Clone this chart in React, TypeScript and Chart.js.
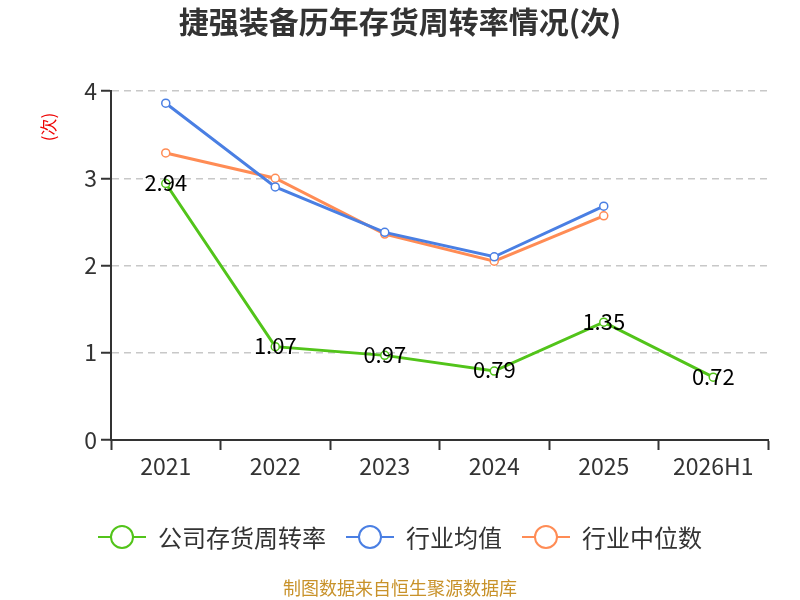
import React, { useEffect, useRef } from "react";
import { Chart, registerables } from "chart.js";

Chart.register(...registerables);

const categories = ["2021", "2022", "2023", "2024", "2025", "2026H1"];
const companyTurnover = [2.94, 1.07, 0.97, 0.79, 1.35, 0.72];
const industryMean = [3.86, 2.9, 2.38, 2.1, 2.68, null];
const industryMedian = [3.29, 3.0, 2.36, 2.05, 2.57, null];
const yTicks = [0, 1, 2, 3, 4];

const titleText = "捷强装备历年存货周转率情况(次)";
const yUnit = "(次)";
const footerText = "制图数据来自恒生聚源数据库";
const seriesNames = ["公司存货周转率", "行业均值", "行业中位数"];
const seriesColors = ["#52c41a", "#4a7fe3", "#ff8c55"];

const FONT = "'Noto Sans CJK SC', 'Noto Sans', sans-serif";

const decorPlugin = {
  id: "decor",
  afterDatasetsDraw(chart: any) {
    const ctx = chart.ctx;
    const meta = chart.getDatasetMeta(0);
    ctx.save();
    ctx.font = `22px ${FONT}`;
    ctx.fillStyle = "#000";
    ctx.textAlign = "center";
    ctx.textBaseline = "middle";
    meta.data.forEach((pt: any, i: number) => {
      const v = companyTurnover[i];
      if (v == null) return;
      ctx.fillText(v.toFixed(2), pt.x, pt.y - 1);
    });
    ctx.restore();
  },
  afterDraw(chart: any) {
    const ctx = chart.ctx;
    ctx.save();
    // title
    ctx.font = `bold 30px ${FONT}`;
    ctx.fillStyle = "#333";
    ctx.textAlign = "center";
    ctx.textBaseline = "middle";
    ctx.fillText(titleText, 400, 22);

    // y unit
    ctx.save();
    ctx.translate(49, 127);
    ctx.rotate(-Math.PI / 2);
    ctx.font = `17px ${FONT}`;
    ctx.fillStyle = "#e00";
    ctx.fillText(yUnit, 0, 0);
    ctx.restore();

    // legend
    ctx.font = `24px ${FONT}`;
    const symW = 48;
    const gapSym = 12;
    const gapItem = 20;
    const widths = seriesNames.map((n) => symW + gapSym + ctx.measureText(n).width);
    const total = widths.reduce((a, b) => a + b, 0) + gapItem * (seriesNames.length - 1);
    let x = 400 - total / 2;
    const ly = 537;
    seriesNames.forEach((n, i) => {
      ctx.strokeStyle = seriesColors[i];
      ctx.lineWidth = 2;
      ctx.beginPath();
      ctx.moveTo(x, ly);
      ctx.lineTo(x + symW, ly);
      ctx.stroke();
      ctx.beginPath();
      ctx.arc(x + symW / 2, ly, 11, 0, Math.PI * 2);
      ctx.fillStyle = "#fff";
      ctx.fill();
      ctx.stroke();
      ctx.fillStyle = "#333";
      ctx.textAlign = "left";
      ctx.fillText(n, x + symW + gapSym, ly + 1);
      x += widths[i] + gapItem;
    });

    // footer
    ctx.font = `18px ${FONT}`;
    ctx.fillStyle = "#c8922a";
    ctx.textAlign = "center";
    ctx.fillText(footerText, 400, 588);
    ctx.restore();
  },
};

export default function App() {
  const ref = useRef<HTMLCanvasElement | null>(null);
  useEffect(() => {
    if (!ref.current) return;
    const mk = (label: string, data: any[], color: string) => ({
      label,
      data,
      borderColor: color,
      backgroundColor: "#fff",
      borderWidth: 3,
      pointRadius: 4,
      pointBorderWidth: 1.5,
      pointBackgroundColor: "#fff",
      pointBorderColor: color,
      tension: 0,
      spanGaps: false,
    });
    const chart = new Chart(ref.current, {
      type: "line",
      data: {
        labels: categories,
        datasets: [
          mk(seriesNames[0], companyTurnover, seriesColors[0]),
          mk(seriesNames[1], industryMean, seriesColors[1]),
          mk(seriesNames[2], industryMedian, seriesColors[2]),
        ],
      },
      options: {
        animation: false,
        responsive: false,
        devicePixelRatio: 1,
        layout: { padding: { left: 0, top: 91, right: 32, bottom: 120 } },
        plugins: {
          legend: { display: false },
          title: { display: false },
          tooltip: { enabled: false },
        },
        scales: {
          x: {
            offset: true,
            afterFit: (s: any) => {
              s.height = 40;
            },
            grid: {
              display: true,
              drawOnChartArea: false,
              drawTicks: true,
              tickLength: 10,
              tickColor: "#333",
              tickWidth: 2,
              offset: true,
            },
            border: { display: true, color: "#333", width: 2 },
            ticks: {
              color: "#333",
              font: { family: FONT, size: 23 },
              padding: 2,
              maxRotation: 0,
            },
          },
          y: {
            min: 0,
            max: 4,
            afterFit: (s: any) => {
              s.width = 111;
            },
            afterBuildTicks: (s: any) => {
              s.ticks = yTicks.map((v) => ({ value: v }));
            },
            grid: {
              color: (c: any) => (c.tick && c.tick.value === 0 ? "rgba(0,0,0,0)" : "#c8c8c8"),
              lineWidth: 1.5,
              drawTicks: true,
              tickLength: 10,
              tickColor: "#333",
              tickWidth: 2,
              tickBorderDash: [],
            },
            border: { display: true, color: "#333", width: 2, dash: [7, 5] },
            ticks: {
              color: "#333",
              font: { family: FONT, size: 23 },
              padding: 4,
            },
          },
        },
      },
      plugins: [decorPlugin],
    });
    return () => chart.destroy();
  }, []);
  return (
    <div style={{ position: "fixed", left: 0, top: 0, width: 800, height: 600, background: "#fff" }}>
      <canvas ref={ref} width={800} height={600} style={{ width: 800, height: 600 }} />
    </div>
  );
}
